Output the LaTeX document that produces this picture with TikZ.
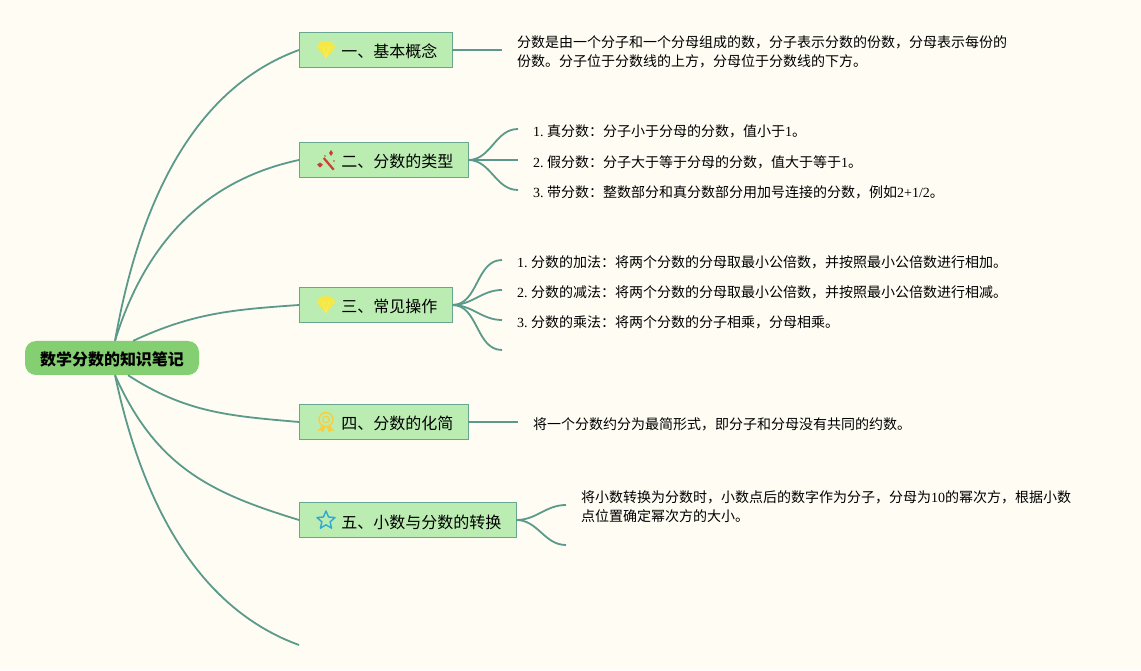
\documentclass[tikz,border=0pt]{standalone}
\usepackage{fontspec}
\setmainfont{Liberation Serif}
\newfontfamily\cjk{Noto Sans CJK SC}
\frenchspacing
\usetikzlibrary{shapes.geometric}
\definecolor{paper}{HTML}{FEFCF3}
\definecolor{branchcol}{HTML}{5B9A8B}
\definecolor{topiccol}{HTML}{BBEDB2}
\definecolor{rootcol}{HTML}{85CF73}
\definecolor{gemcol}{HTML}{F5E843}
\definecolor{wandcol}{HTML}{C8402F}
\definecolor{medalcol}{HTML}{F3CF45}
\definecolor{starcol}{HTML}{2FA8D5}
\tikzset{
    root/.style={fill=rootcol, rounded corners=11pt, minimum width=174pt, minimum height=34pt, inner sep=0pt, text height=16pt, text depth=0pt, font=\fontsize{16}{16}\selectfont\cjk\bfseries},
    topic/.style={draw=branchcol!85!topiccol, fill=topiccol, line width=0.8pt, anchor=west, minimum height=35pt, inner sep=0pt, text height=16pt, text depth=0pt, font=\fontsize{16}{16}\selectfont\cjk,
        execute at begin node=\hspace*{42pt}, execute at end node=\hspace*{14.5pt}},
    leaf/.style={anchor=west, inner xsep=15pt, inner ysep=0pt, align=left, font=\fontsize{14}{19}\selectfont,
        execute at begin node=\rule{0pt}{17pt}},
    branch/.style={draw=branchcol, line width=1.8pt},
    pics/gem/.style={code={
        \fill[gemcol, rounded corners=1pt] (-9.5,3) -- (-5,8.5) -- (5,8.5) -- (9.5,3) -- (0,-8.5) -- cycle;
        \draw[white, line width=0.4pt, opacity=0.35] (-9,3) -- (9,3) (-3,3) -- (0,-8) -- (3,3);
    }},
    pics/wand/.style={code={
        \draw[wandcol, line width=2.2pt] (-2.3,2) -- (7.7,-9.7);
        \fill[wandcol] (-9,-4.7) -- (-6,-2.5) -- (-3,-4.7) -- (-6,-7.5) -- cycle;
        \fill[wandcol] (3,7) -- (5,10) -- (7,7) -- (5,4) -- cycle;
        \fill[wandcol] (-1,4) circle (0.8);
        \fill[wandcol] (8,-1) circle (0.8);
    }},
    pics/medal/.style={code={
        \draw[medalcol, line width=1.5pt] (0,2.5) circle (7);
        \draw[medalcol, line width=1.2pt] (0,2.5) circle (3.3);
        \fill[medalcol] (-4,-3.5) -- (-8.5,-9) -- (-5,-8.5) -- (-3,-10.5) -- (-0.5,-5) -- cycle;
        \fill[medalcol] (4,-3.5) -- (8.5,-9) -- (5,-8.5) -- (3,-10.5) -- (0.5,-5) -- cycle;
    }},
}
\begin{document}
\begin{tikzpicture}[x=1pt,y=1pt]
\fill[paper] (0,0) rectangle (1141,670);
\useasboundingbox (0,0) rectangle (1141,670);

\node[root] (root) at (112,312) {数学分数的知识笔记};

\node[topic] (t1) at (299,620) {一、基本概念};
\node[topic] (t2) at (299,510) {二、分数的类型};
\node[topic] (t3) at (299,365) {三、常见操作};
\node[topic] (t4) at (299,248) {四、分数的化简};
\node[topic] (t5) at (299,150) {五、小数与分数的转换};
\coordinate (t6) at (299,25);

\pic at (326,620) {gem};
\pic at (326,510) {wand};
\pic at (326,365) {gem};
\pic at (326,248) {medal};
\node[star, star points=5, star point ratio=2.2, draw=starcol, line width=1.4pt, line join=round, minimum size=19pt, inner sep=0pt] (s5) at (326,149.5) {};

\node[leaf] (a1) at (502,618) {\cjk 分数是由一个分子和一个分母组成的数，分子表示分数的份数，分母表示每份的\\\cjk 份数。分子位于分数线的上方，分母位于分数线的下方。};

\node[leaf] (b1) at (518,541) {1. {\cjk 真分数：分子小于分母的分数，值小于}1{\cjk 。}};
\node[leaf] (b2) at (518,510) {2. {\cjk 假分数：分子大于等于分母的分数，值大于等于}1{\cjk 。}};
\node[leaf] (b3) at (518,480) {3. {\cjk 带分数：整数部分和真分数部分用加号连接的分数，例如}2+1/2{\cjk 。}};

\node[leaf] (c1) at (502,410) {1. {\cjk 分数的加法：将两个分数的分母取最小公倍数，并按照最小公倍数进行相加。}};
\node[leaf] (c2) at (502,380) {2. {\cjk 分数的减法：将两个分数的分母取最小公倍数，并按照最小公倍数进行相减。}};
\node[leaf] (c3) at (502,350) {3. {\cjk 分数的乘法：将两个分数的分子相乘，分母相乘。}};
\coordinate (c4) at (502,320);

\node[leaf] (d1) at (518,248) {\cjk 将一个分数约分为最简形式，即分子和分母没有共同的约数。};

\node[leaf] (e1) at (566,163) {{\cjk 将小数转换为分数时，小数点后的数字作为分子，分母为}10{\cjk 的幂次方，根据小数}\\\cjk 点位置确定幂次方的大小。};
\coordinate (e2) at (566,125);

\draw[branch] (root.80) to[out=80, in=200, out looseness=1.21, in looseness=0.74] (t1.west);
\draw[branch] (root.80) to[out=73, in=192, out looseness=1.04, in looseness=0.93] (t2.west);
\draw[branch] (root.39) to[out=25, in=184] (t3.west);
\draw[branch] (root.-47) to[out=-33, in=175] (t4.west);
\draw[branch] (root.-80) to[out=-66, in=163, out looseness=1.1] (t5.west);
\draw[branch] (root.-80) to[out=-78, in=160, out looseness=1.17, in looseness=0.76] (t6);

\draw[branch] (t1.east) -- ([yshift=2pt]a1.west);
\draw[branch] (t2.east) to[out=0, in=180] (b1.west);
\draw[branch] (t2.east) -- (b2.west);
\draw[branch] (t2.east) to[out=0, in=180] (b3.west);
\draw[branch] (t3.east) to[out=0, in=180] (c1.west);
\draw[branch] (t3.east) to[out=0, in=180] (c2.west);
\draw[branch] (t3.east) to[out=0, in=180] (c3.west);
\draw[branch] (t3.east) to[out=0, in=180] (c4);
\draw[branch] (t4.east) -- (d1.west);
\draw[branch] (t5.east) to[out=0, in=180] ([yshift=2pt]e1.west);
\draw[branch] (t5.east) to[out=0, in=180] (e2);
\end{tikzpicture}
\end{document}
